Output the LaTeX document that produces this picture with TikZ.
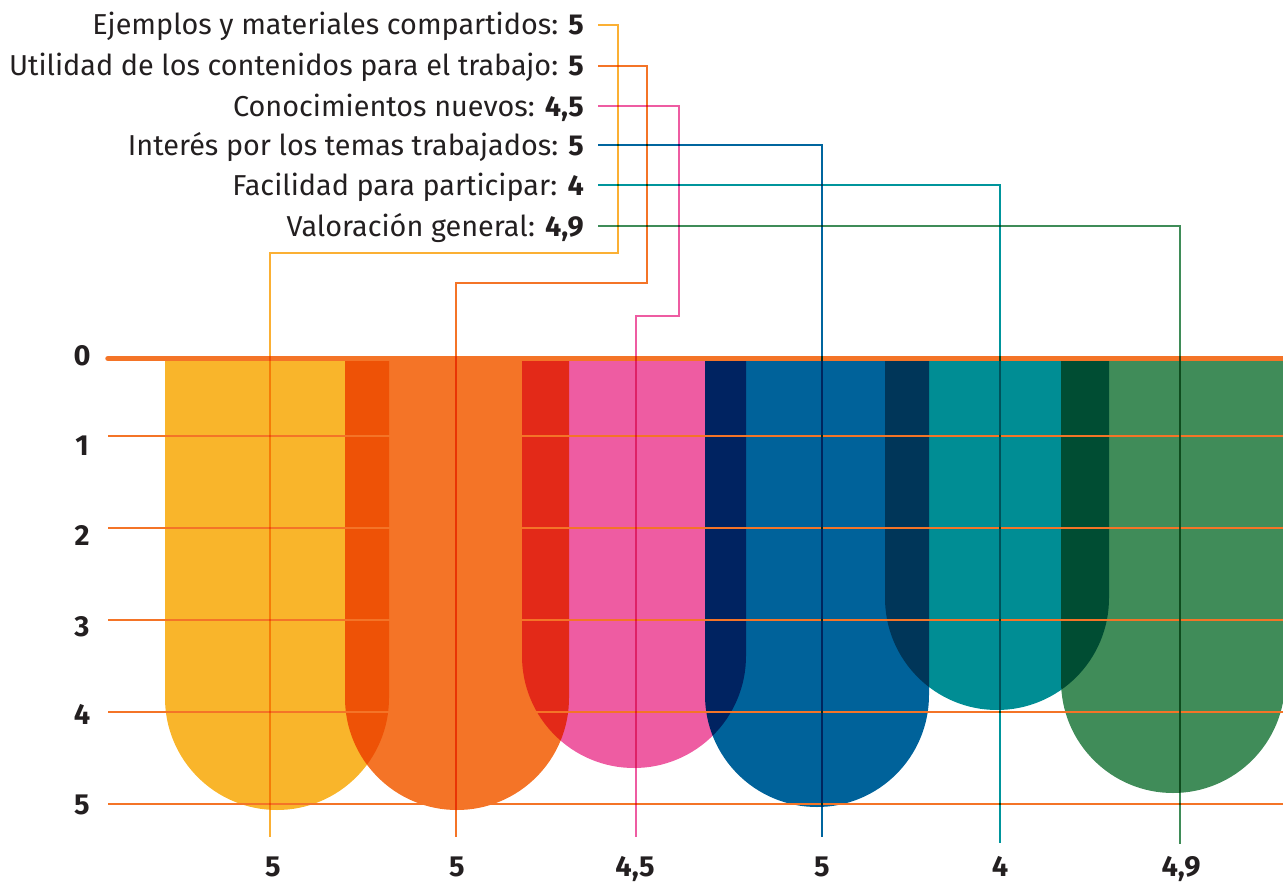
\documentclass[tikz,border=0pt]{standalone}
\usepackage{fontspec}
\setmainfont{Fira Sans}
\definecolor{txt}{HTML}{231F20}
\definecolor{cyel}{HTML}{F9B52B}
\definecolor{cora}{HTML}{F47427}
\definecolor{cpin}{HTML}{EE5CA2}
\definecolor{cblu}{HTML}{00629A}
\definecolor{ctea}{HTML}{008D94}
\definecolor{cgre}{HTML}{408C59}
\definecolor{lyel}{HTML}{FBB034}
\definecolor{lblu}{HTML}{00659E}
\definecolor{ltea}{HTML}{00959C}
\definecolor{lgre}{HTML}{3F8C58}
\newcommand\drawbar[3]{%
  \fill[#1] (#2,358) -- (#2,#3-112)
    .. controls (#2,#3-50.14) and (#2+50.14,#3) .. (#2+112,#3)
    .. controls (#2+173.86,#3) and (#2+224,#3-50.14) .. (#2+224,#3-112)
    -- (#2+224,358) -- cycle;}
\begin{document}
\begin{tikzpicture}[x=1pt,y=-1pt,
  lbl/.style={anchor=base east,inner sep=0pt,text=txt,font=\fontsize{28.8}{32}\selectfont},
  axl/.style={anchor=base,inner sep=0pt,text=txt,font=\fontsize{29}{32}\selectfont\bfseries},
  vall/.style={anchor=base,inner sep=0pt,text=txt,font=\fontsize{29}{32}\selectfont\bfseries},
  gridln/.style={draw=cora,line width=2.5pt},
  conn/.style={line width=2pt},
]
\useasboundingbox (0,0) rectangle (1283,883);
\begin{scope}
\clip (0,0) rectangle (1283,883);
% bars
\begin{scope}[blend mode=multiply]
\drawbar{cyel}{165}{810}
\drawbar{cora}{345}{810}
\drawbar{cpin}{522}{768}
\drawbar{cblu}{705}{807}
\drawbar{ctea}{885}{710}
\drawbar{cgre}{1061}{793}
\end{scope}
% grid
\coordinate (g0a) at (108,358.5); \coordinate (g0b) at (1290,358.5);
\draw[gridln,line width=5.5pt,line cap=round] (g0a) -- (g0b);
\foreach \i/\y in {1/436,2/528,3/620,4/712,5/804}{
  \coordinate (g\i a) at (108,\y); \coordinate (g\i b) at (1290,\y);
  \draw[gridln] (g\i a) -- (g\i b);
}
% connector coordinates
\coordinate (s1) at (598,25);  \coordinate (k1) at (618,253); \coordinate (e1) at (270,837);
\coordinate (s2) at (598,66);  \coordinate (k2) at (647,283); \coordinate (e2) at (456,837);
\coordinate (s3) at (598,106); \coordinate (k3) at (679,316); \coordinate (e3) at (636,837);
\coordinate (s4) at (598,145); \coordinate (e4) at (822,837);
\coordinate (s5) at (598,185); \coordinate (e5) at (1000,843);
\coordinate (s6) at (598,226); \coordinate (e6) at (1180,844);
\begin{scope}[blend mode=multiply]
\draw[conn,lyel] (s1) -| (k1) -| (e1);
\draw[conn,cora] (s2) -| (k2) -| (e2);
\draw[conn,cpin] (s3) -| (k3) -| (e3);
\draw[conn,lblu] (s4) -| (e4);
\draw[conn,ltea] (s5) -| (e5);
\draw[conn,lgre] (s6) -| (e6);
\end{scope}
\end{scope}
% labels
\node[lbl] (l1) at (584,35) {Ejemplos y materiales compartidos: \textbf{5}};
\node[lbl] (l2) at (584,76) {Utilidad de los contenidos para el trabajo: \textbf{5}};
\node[lbl] (l3) at (584,116) {Conocimientos nuevos: \textbf{4,5}};
\node[lbl] (l4) at (584,155) {Interés por los temas trabajados: \textbf{5}};
\node[lbl] (l5) at (584,195) {Facilidad para participar: \textbf{4}};
\node[lbl] (l6) at (584,236) {Valoración general: \textbf{4,9}};
% axis
\node[axl] (a0) at (82,365) {0};
\node[axl] (a1) at (82,455) {1};
\node[axl] (a2) at (82,545) {2};
\node[axl] (a3) at (82,636) {3};
\node[axl] (a4) at (82,724) {4};
\node[axl] (a5) at (82,814) {5};
% values
\node[vall] (v1) at (273,876) {5};
\node[vall] (v2) at (457,876) {5};
\node[vall] (v3) at (635,876) {4,5};
\node[vall] (v4) at (822,876) {5};
\node[vall] (v5) at (1000,876) {4};
\node[vall] (v6) at (1181,876) {4,9};
\end{tikzpicture}
\end{document}
